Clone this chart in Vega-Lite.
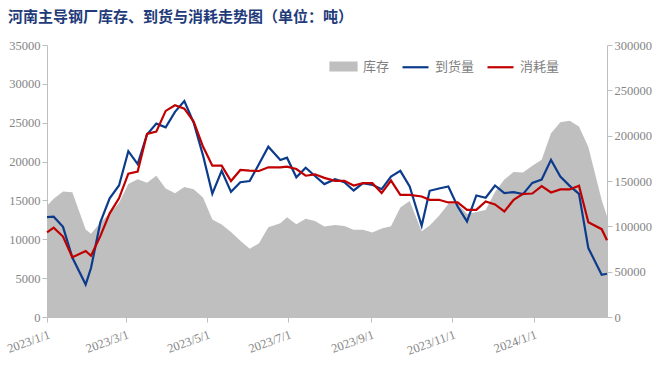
{
  "$schema": "https://vega.github.io/schema/vega-lite/v6.json",
  "width": 560,
  "height": 272,
  "autosize": {"type": "none"},
  "padding": {"left": 47, "top": 45, "right": 51, "bottom": 51},
  "background": "white",
  "title": {
    "text": "河南主导钢厂库存、到货与消耗走势图（单位：吨）",
    "anchor": "start",
    "frame": "group",
    "dx": -39,
    "offset": 14,
    "font": "Noto Sans CJK SC",
    "fontSize": 15,
    "fontWeight": "bold",
    "color": "#1f3b7a"
  },
  "config": {
    "view": {"stroke": null},
    "axis": {
      "labelFont": "Liberation Serif",
      "labelFontSize": 12.5,
      "labelColor": "#858585",
      "domainColor": "#bfbfbf",
      "tickColor": "#bfbfbf",
      "tickSize": 5,
      "grid": false,
      "title": null
    },
    "legend": {
      "orient": "none",
      "legendX": 282,
      "legendY": 7,
      "direction": "horizontal",
      "title": null,
      "labelFont": "Noto Sans CJK SC",
      "labelFontSize": 13,
      "labelColor": "#808080",
      "symbolSize": 676,
      "labelOffset": 5,
      "columnPadding": 8
    }
  },
  "data": {
    "values": [
      {"date": "2023/01/01", "库存": 122600, "到货量": 12850, "消耗量": 10900},
      {"date": "2023/01/06", "库存": 130500, "到货量": 12900, "消耗量": 11500},
      {"date": "2023/01/13", "库存": 138300, "到货量": 11600, "消耗量": 10350},
      {"date": "2023/01/20", "库存": 137600, "到货量": 7650, "消耗量": 7680},
      {"date": "2023/01/30", "库存": 96500, "到货量": 4180, "消耗量": 8500},
      {"date": "2023/02/03", "库存": 91700, "到货量": 6300, "消耗量": 7880},
      {"date": "2023/02/10", "库存": 104000, "到货量": 12170, "消耗量": 10400},
      {"date": "2023/02/17", "库存": 114500, "到货量": 15280, "消耗量": 13340},
      {"date": "2023/02/24", "库存": 125800, "到货量": 16930, "消耗量": 15270},
      {"date": "2023/03/03", "库存": 146600, "到货量": 21340, "消耗量": 18450},
      {"date": "2023/03/10", "库存": 152000, "到货量": 19670, "消耗量": 18710},
      {"date": "2023/03/17", "库存": 148200, "到货量": 23490, "消耗量": 23550},
      {"date": "2023/03/24", "库存": 155800, "到货量": 24880, "消耗量": 23850},
      {"date": "2023/03/31", "库存": 141600, "到货量": 24410, "消耗量": 26520},
      {"date": "2023/04/07", "库存": 136500, "到货量": 26400, "消耗量": 27240},
      {"date": "2023/04/14", "库存": 143500, "到货量": 27800, "消耗量": 26800},
      {"date": "2023/04/21", "库存": 141000, "到货量": 25000, "消耗量": 25140},
      {"date": "2023/04/28", "库存": 131900, "到货量": 20800, "消耗量": 21930},
      {"date": "2023/05/05", "库存": 107500, "到货量": 15880, "消耗量": 19470},
      {"date": "2023/05/12", "库存": 102000, "到货量": 18800, "消耗量": 19470},
      {"date": "2023/05/19", "库存": 93700, "到货量": 16100, "消耗量": 17500},
      {"date": "2023/05/26", "库存": 84200, "到货量": 17340, "消耗量": 18920},
      {"date": "2023/06/02", "库存": 75300, "到货量": 17490, "消耗量": 18830},
      {"date": "2023/06/09", "库存": 81400, "到货量": 19680, "消耗量": 18790},
      {"date": "2023/06/16", "库存": 99000, "到货量": 21920, "消耗量": 19260},
      {"date": "2023/06/25", "库存": 103400, "到货量": 20200, "消耗量": 19260},
      {"date": "2023/06/30", "库存": 110100, "到货量": 20500, "消耗量": 19340},
      {"date": "2023/07/07", "库存": 102300, "到货量": 17980, "消耗量": 19040},
      {"date": "2023/07/14", "库存": 108500, "到货量": 19210, "消耗量": 18180},
      {"date": "2023/07/21", "库存": 106000, "到货量": 18140, "消耗量": 18360},
      {"date": "2023/07/28", "库存": 99700, "到货量": 17100, "消耗量": 17900},
      {"date": "2023/08/05", "库存": 101600, "到货量": 17740, "消耗量": 17520},
      {"date": "2023/08/12", "库存": 100500, "到货量": 17350, "消耗量": 17520},
      {"date": "2023/08/19", "库存": 96100, "到货量": 16280, "消耗量": 16920},
      {"date": "2023/08/26", "库存": 96100, "到货量": 17220, "消耗量": 17220},
      {"date": "2023/09/02", "库存": 93300, "到货量": 17010, "消耗量": 17220},
      {"date": "2023/09/09", "库存": 97500, "到货量": 16450, "消耗量": 15940},
      {"date": "2023/09/16", "库存": 100100, "到货量": 18080, "消耗量": 17560},
      {"date": "2023/09/23", "库存": 120900, "到货量": 18810, "消耗量": 15720},
      {"date": "2023/09/30", "库存": 128000, "到货量": 16790, "消耗量": 15720},
      {"date": "2023/10/09", "库存": 94600, "到货量": 11740, "消耗量": 15510},
      {"date": "2023/10/15", "库存": 101000, "到货量": 16240, "消耗量": 15080},
      {"date": "2023/10/22", "库存": 111600, "到货量": 16540, "消耗量": 15080},
      {"date": "2023/10/29", "库存": 124500, "到货量": 16790, "消耗量": 14740},
      {"date": "2023/11/05", "库存": 125000, "到货量": 14220, "消耗量": 14740},
      {"date": "2023/11/12", "库存": 113500, "到货量": 12300, "消耗量": 13790},
      {"date": "2023/11/19", "库存": 115700, "到货量": 15640, "消耗量": 13790},
      {"date": "2023/11/26", "库存": 118100, "到货量": 15340, "消耗量": 14870},
      {"date": "2023/12/03", "库存": 138000, "到货量": 16920, "消耗量": 14480},
      {"date": "2023/12/10", "库存": 151700, "到货量": 15940, "消耗量": 13580},
      {"date": "2023/12/17", "库存": 160000, "到货量": 16070, "消耗量": 15080},
      {"date": "2023/12/24", "库存": 159300, "到货量": 15810, "消耗量": 15850},
      {"date": "2023/12/31", "库存": 166800, "到货量": 17260, "消耗量": 15890},
      {"date": "2024/01/07", "库存": 173400, "到货量": 17690, "消耗量": 16840},
      {"date": "2024/01/14", "库存": 202600, "到货量": 20220, "消耗量": 16020},
      {"date": "2024/01/21", "库存": 214700, "到货量": 18080, "消耗量": 16410},
      {"date": "2024/01/28", "库存": 216400, "到货量": 16880, "消耗量": 16410},
      {"date": "2024/02/04", "库存": 210000, "到货量": 15850, "消耗量": 16900},
      {"date": "2024/02/11", "库存": 187400, "到货量": 8870, "消耗量": 12180},
      {"date": "2024/02/21", "库存": 129000, "到货量": 5440, "消耗量": 11300},
      {"date": "2024/02/25", "库存": 111000, "到货量": 5570, "消耗量": 9880}
    ]
  },
  "encoding": {
    "x": {
      "field": "date",
      "type": "temporal",
      "scale": {"domain": [{"year": 2023, "month": 1, "date": 1}, {"year": 2024, "month": 2, "date": 25}], "nice": false},
      "axis": {
        "values": [
          {"year": 2023, "month": 1, "date": 1},
          {"year": 2023, "month": 3, "date": 1},
          {"year": 2023, "month": 5, "date": 1},
          {"year": 2023, "month": 7, "date": 1},
          {"year": 2023, "month": 9, "date": 1},
          {"year": 2023, "month": 11, "date": 1},
          {"year": 2024, "month": 1, "date": 1}
        ],
        "format": "%Y/%-m/%-d",
        "labelFont": "Liberation Serif",
        "labelAngle": -20,
        "labelAlign": "right",
        "labelPadding": 6
      }
    }
  },
  "layer": [
    {
      "mark": {"type": "area", "opacity": 1},
      "encoding": {
        "y": {
          "field": "库存",
          "type": "quantitative",
          "scale": {"domain": [0, 300000], "nice": false},
          "axis": {"orient": "right", "values": [0, 50000, 100000, 150000, 200000, 250000, 300000], "format": "d", "labelPadding": 2, "labelFont": "Liberation Serif"}
        },
        "color": {
          "datum": "库存",
          "type": "nominal",
          "scale": {"domain": ["库存", "到货量", "消耗量"], "range": ["#bfbfbf", "#0d3b8c", "#c00000"]},
          "legend": {
            "title": null,
            "encode": {
              "symbols": {
                "update": {
                  "shape": {"signal": "datum.value === '库存' ? 'M-1,-0.3H1V0.3H-1Z' : 'M-1,0H1'"},
                  "fill": {"signal": "datum.value === '库存' ? '#bfbfbf' : 'transparent'"},
                  "stroke": {"signal": "datum.value === '库存' ? 'transparent' : (datum.value === '到货量' ? '#0d3b8c' : '#c00000')"},
                  "strokeWidth": {"value": 2.2},
                  "opacity": {"value": 1}
                }
              }
            }
          }
        }
      }
    },
    {
      "transform": [{"fold": ["到货量", "消耗量"], "as": ["series", "value"]}],
      "mark": {"type": "line", "strokeWidth": 2.2},
      "encoding": {
        "y": {
          "field": "value",
          "type": "quantitative",
          "scale": {"domain": [0, 35000], "nice": false},
          "axis": {"orient": "left", "values": [0, 5000, 10000, 15000, 20000, 25000, 30000, 35000], "format": "d", "labelPadding": 2, "labelFont": "Liberation Serif"}
        },
        "color": {
          "field": "series",
          "type": "nominal",
          "scale": {"domain": ["库存", "到货量", "消耗量"], "range": ["#bfbfbf", "#0d3b8c", "#c00000"]},
          "legend": {
            "title": null,
            "encode": {
              "symbols": {
                "update": {
                  "shape": {"signal": "datum.value === '库存' ? 'M-1,-0.3H1V0.3H-1Z' : 'M-1,0H1'"},
                  "fill": {"signal": "datum.value === '库存' ? '#bfbfbf' : 'transparent'"},
                  "stroke": {"signal": "datum.value === '库存' ? 'transparent' : (datum.value === '到货量' ? '#0d3b8c' : '#c00000')"},
                  "strokeWidth": {"value": 2.2},
                  "opacity": {"value": 1}
                }
              }
            }
          }
        }
      }
    }
  ],
  "resolve": {"scale": {"y": "independent"}}
}
